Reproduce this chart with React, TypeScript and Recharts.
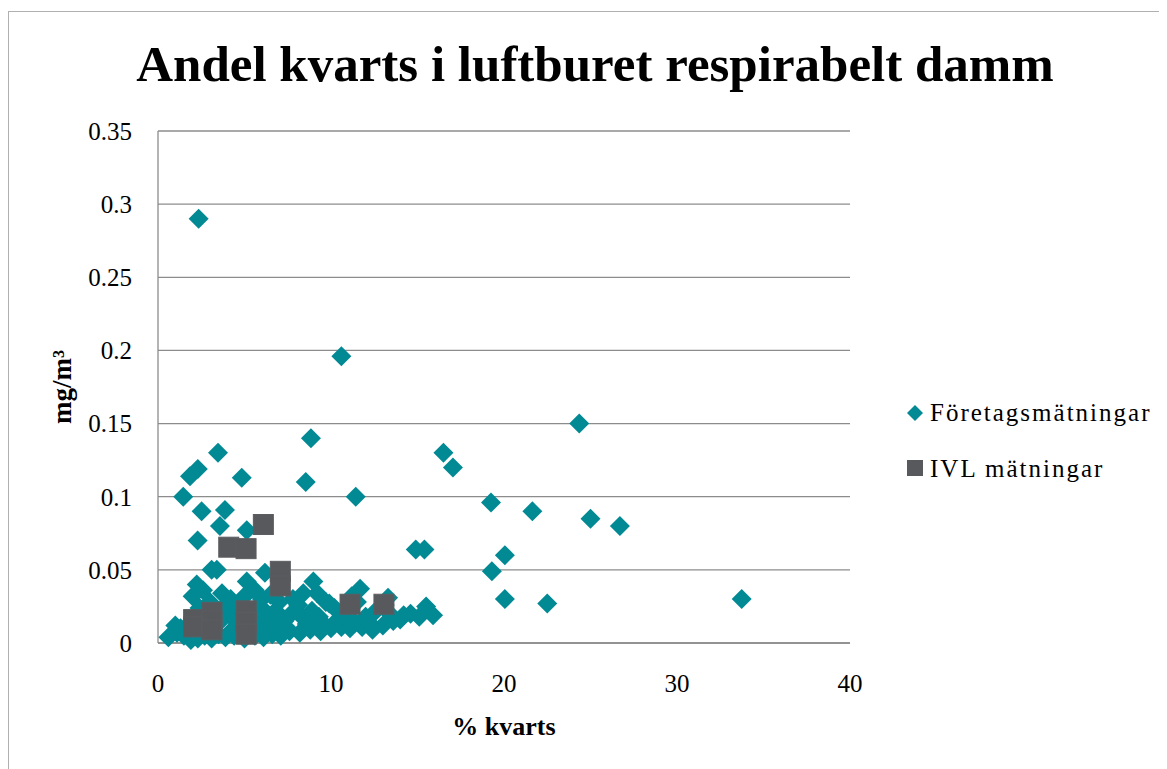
import { CartesianGrid, Scatter, ScatterChart, XAxis, YAxis } from 'recharts'

const TEAL = '#028A94'
const GREY = '#58595D'
const AXIS = '#8c8c8c'
const FONT = '"Liberation Serif", "Times New Roman", serif'

const titleText = 'Andel kvarts i luftburet respirabelt damm'
const xLabel = '% kvarts'
const yLabel = 'mg/m³'
const seriesNames = ['Företagsmätningar', 'IVL mätningar']
const xTicks = [0, 10, 20, 30, 40]
const yTicks = [0, 0.05, 0.1, 0.15, 0.2, 0.25, 0.3, 0.35]

// [% kvarts, mg/m3]
const foretag: [number, number][] = [
  [2.35, 0.29], [10.6, 0.196], [24.35, 0.15], [8.84, 0.14], [3.47, 0.13], [16.5, 0.13],
  [17.05, 0.12], [2.3, 0.119], [1.85, 0.114], [4.84, 0.113], [8.54, 0.11], [1.46, 0.1],
  [11.43, 0.1], [19.25, 0.096], [2.52, 0.09], [3.87, 0.091], [21.64, 0.09], [25.0, 0.085],
  [3.58, 0.08], [26.7, 0.08], [5.13, 0.077], [2.29, 0.07], [14.9, 0.064], [15.4, 0.064],
  [20.05, 0.06], [3.1, 0.05], [3.4, 0.05], [19.3, 0.049], [6.18, 0.048], [5.13, 0.042],
  [8.98, 0.042], [2.24, 0.04], [11.68, 0.037], [20.05, 0.03], [22.5, 0.027], [33.74, 0.03],
  [13.3, 0.031],
  // lower cluster
  [0.6, 0.004], [1.1, 0.007], [1.5, 0.005], [1.9, 0.002], [2.3, 0.003], [2.7, 0.005],
  [3.1, 0.003], [3.5, 0.006], [3.9, 0.004], [4.4, 0.005], [5.0, 0.003], [5.6, 0.005],
  [6.1, 0.004], [6.6, 0.006], [7.1, 0.005], [7.6, 0.008], [8.2, 0.007], [8.8, 0.009],
  [9.4, 0.008], [10.0, 0.01], [10.6, 0.011], [11.1, 0.01], [11.8, 0.011], [12.4, 0.009],
  [13.0, 0.012], [13.6, 0.015], [14.0, 0.016], [14.6, 0.02], [15.1, 0.018], [15.5, 0.025],
  [15.9, 0.019],
  [1.3, 0.01], [1.7, 0.012], [2.0, 0.016], [2.5, 0.014], [2.9, 0.018], [3.3, 0.012],
  [3.7, 0.016], [4.1, 0.02], [4.6, 0.013], [4.8, 0.024], [5.4, 0.018], [5.8, 0.012],
  [6.0, 0.024], [6.4, 0.017], [6.8, 0.022], [7.3, 0.015], [7.7, 0.02], [8.1, 0.026],
  [8.4, 0.017], [8.9, 0.022], [9.3, 0.018], [9.7, 0.028], [10.2, 0.024], [10.8, 0.019],
  [11.5, 0.028], [12.0, 0.018], [12.6, 0.022], [13.1, 0.026], [14.2, 0.019],
  [1.0, 0.012], [2.4, 0.024], [3.4, 0.022], [3.9, 0.026], [4.3, 0.009], [5.3, 0.01],
  [6.3, 0.009], [6.9, 0.012], [7.4, 0.011], [8.6, 0.013], [9.5, 0.014], [10.4, 0.016],
  [11.4, 0.014], [12.2, 0.014], [13.4, 0.02],
  [2.0, 0.032], [2.6, 0.036], [3.0, 0.028], [3.7, 0.034], [4.2, 0.03], [4.5, 0.026],
  [5.0, 0.032], [5.6, 0.036], [6.0, 0.03], [6.5, 0.033], [7.0, 0.028], [7.8, 0.03],
  [8.4, 0.034], [9.2, 0.034], [9.9, 0.027], [11.2, 0.032],
]

const ivl: [number, number][] = [
  [2.06, 0.016], [2.06, 0.011], [3.12, 0.021], [3.12, 0.015], [3.12, 0.009],
  [5.1, 0.022], [5.1, 0.014], [5.1, 0.006], [4.09, 0.0655], [5.09, 0.0645],
  [6.09, 0.081], [7.07, 0.049], [7.07, 0.039], [11.1, 0.0265], [13.06, 0.0265],
]

const toPoints = (arr: [number, number][]) => arr.map(([x, y]) => ({ x, y }))

const Diamond = (props: any) => {
  const { cx, cy } = props
  if (cx == null || cy == null) return null
  const r = 10
  return <polygon points={`${cx},${cy - r} ${cx + r},${cy} ${cx},${cy + r} ${cx - r},${cy}`} fill={TEAL} />
}

const Square = (props: any) => {
  const { cx, cy } = props
  if (cx == null || cy == null) return null
  return <rect x={cx - 10} y={cy - 10} width={20} height={20} fill={GREY} stroke="#5c5d61" strokeWidth={1} />
}

const XTitle = (props: any) => {
  const vb = props.viewBox || {}
  return (
    <text x={vb.x + vb.width / 2} y={vb.y + 92} textAnchor="middle" fontFamily={FONT} fontWeight="bold" fontSize={26} fill="#000">
      {xLabel}
    </text>
  )
}

const YTitle = (props: any) => {
  const vb = props.viewBox || {}
  const x = vb.x + 13
  const y = vb.y + vb.height / 2
  return (
    <text x={x} y={y} transform={`rotate(-90 ${x} ${y})`} textAnchor="middle" fontFamily={FONT} fontWeight="bold" fontSize={27} fill="#000">
      {yLabel}
    </text>
  )
}

// legend drawn beside the plot, same marks as the series
const LegendBox = () => (
  <svg width={270} height={110} style={{ position: 'absolute', left: 891, top: 378 }}>
    <polygon points="15,15 23,23 15,31 7,23" fill={TEAL} />
    <text x={30} y={31} fontFamily={FONT} fontSize={25} letterSpacing={2} fill="#000">{seriesNames[0]}</text>
    <rect x={7} y={70} width={16} height={16} fill={GREY} />
    <text x={30} y={87} fontFamily={FONT} fontSize={25} letterSpacing={2} fill="#000">{seriesNames[1]}</text>
  </svg>
)

export default function App() {
  return (
    <div style={{ paddingTop: 3 }}>
      <div
        style={{
          position: 'relative',
          width: 1159,
          height: 758,
          boxSizing: 'border-box',
          borderTop: '1px solid #b0b0b0',
          borderLeft: '1px solid #b0b0b0',
          fontFamily: FONT,
        }}
      >
        <div
          style={{
            position: 'absolute',
            top: 27,
            left: 586,
            transform: 'translateX(-50%)',
            whiteSpace: 'nowrap',
            fontSize: 51,
            lineHeight: 1,
            fontWeight: 'bold',
            color: '#000',
          }}
        >
          {titleText}
        </div>
        <ScatterChart width={1158} height={757} margin={{ top: 119, right: 317, bottom: 26, left: 49 }}>
          <CartesianGrid vertical={false} stroke={AXIS} strokeWidth={1.3} />
          <XAxis
            type="number"
            dataKey="x"
            domain={[0, 40]}
            ticks={xTicks}
            tickLine={false}
            tickSize={0}
            tickMargin={31}
            height={100}
            axisLine={{ stroke: AXIS, strokeWidth: 1.3 }}
            tick={{ fontSize: 25, fill: '#000', fontFamily: FONT }}
            label={{ content: <XTitle /> }}
          />
          <YAxis
            type="number"
            dataKey="y"
            domain={[0, 0.35]}
            ticks={yTicks}
            tickLine={false}
            tickSize={0}
            tickMargin={26}
            width={100}
            axisLine={{ stroke: AXIS, strokeWidth: 1.3 }}
            tick={{ fontSize: 25, fill: '#000', fontFamily: FONT }}
            label={{ content: <YTitle /> }}
          />
          <Scatter name={seriesNames[0]} data={toPoints(foretag)} shape={<Diamond />} isAnimationActive={false} />
          <Scatter name={seriesNames[1]} data={toPoints(ivl)} shape={<Square />} isAnimationActive={false} />
        </ScatterChart>
        <LegendBox />
      </div>
    </div>
  )
}
